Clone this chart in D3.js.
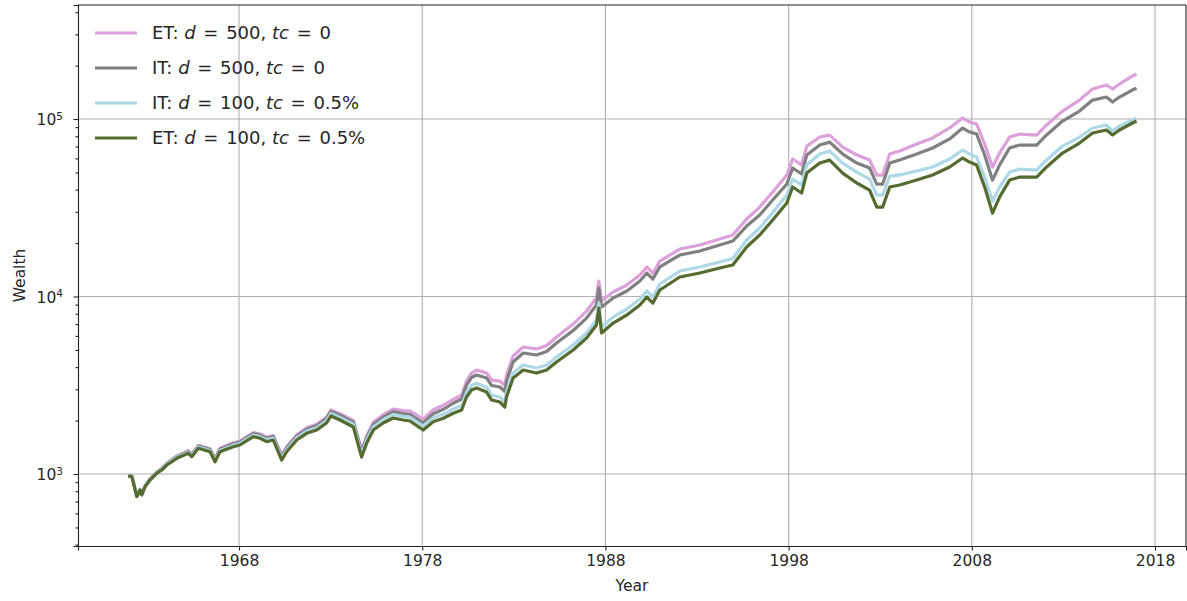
<!DOCTYPE html>
<html>
<head>
<meta charset="utf-8">
<script src="https://cdn.jsdelivr.net/npm/d3@7"></script>
<style>
  html, body { margin: 0; padding: 0; background: #fff; }
  svg { display: block; font-family: "DejaVu Sans", sans-serif; }
</style>
</head>
<body>
<svg id="chart" width="1187" height="601"></svg>
<script>
(function () {
    'use strict';

    // ── Data ──────────────────────────────────────────────────
    const years = [
        1961.94, 1962.15, 1962.42, 1962.60, 1962.69, 1962.87, 1963.14, 1963.51, 1963.78, 1964.06,
        1964.60, 1965.23, 1965.42, 1965.78, 1966.42, 1966.69, 1966.96, 1967.69, 1968.05, 1968.78,
        1969.15, 1969.51, 1969.87, 1970.33, 1970.60, 1971.15, 1971.69, 1972.24, 1972.78, 1973.02,
        1973.51, 1974.24, 1974.69, 1974.97, 1975.33, 1975.87, 1976.42, 1976.96, 1977.33, 1978.05,
        1978.60, 1979.15, 1979.69, 1980.15, 1980.42, 1980.69, 1980.97, 1981.51, 1981.79, 1982.24,
        1982.51, 1982.60, 1982.96, 1983.51, 1984.24, 1984.79, 1985.33, 1986.24, 1986.97, 1987.51,
        1987.64, 1987.79, 1988.42, 1989.17, 1989.88, 1990.26, 1990.59, 1990.97, 1992.06, 1993.15,
        1994.24, 1994.95, 1995.71, 1996.42, 1997.13, 1997.90, 1998.22, 1998.71, 1998.99, 1999.70,
        2000.24, 2000.95, 2001.72, 2002.42, 2002.81, 2003.13, 2003.52, 2004.06, 2004.99, 2005.86,
        2006.79, 2007.50, 2007.88, 2008.26, 2008.70, 2009.13, 2009.52, 2010.06, 2010.61, 2011.54,
        2012.08, 2012.95, 2013.88, 2014.59, 2015.35, 2015.68, 2016.06, 2016.77, 2016.99
    ];

    // ET: d = 500, tc = 0
    const etD500 = [
        975, 972, 750, 818, 767, 855, 937, 1025, 1074, 1150,
        1258, 1351, 1293, 1450, 1387, 1219, 1396, 1501, 1534, 1713,
        1680, 1612, 1649, 1275, 1424, 1663, 1820, 1905, 2095, 2294,
        2186, 2002, 1365, 1643, 1955, 2157, 2318, 2277, 2265, 2040,
        2302, 2439, 2635, 2787, 3342, 3707, 3853, 3708, 3384, 3340,
        3151, 3611, 4620, 5195, 5060, 5295, 5914, 6998, 8281, 9802,
        12220, 9435, 10600, 11610, 13220, 14660, 13570, 15850, 18520, 19510,
        21080, 22210, 27320, 31920, 38800, 48320, 59530, 55080, 70380, 79160,
        81180, 69490, 62700, 58740, 48330, 48330, 63510, 66050, 72250, 78210,
        89030, 101300, 96100, 93780, 72330, 53570, 64430, 79140, 82280, 81200,
        92580, 110900, 127900, 147600, 155500, 147600, 157400, 174800, 179200
    ];

    // IT: d = 500, tc = 0
    const itD500 = [
        974, 972, 749, 818, 766, 854, 937, 1022, 1070, 1145,
        1252, 1342, 1285, 1436, 1375, 1208, 1379, 1481, 1514, 1690,
        1656, 1588, 1624, 1254, 1399, 1632, 1785, 1868, 2052, 2249,
        2142, 1958, 1331, 1600, 1900, 2089, 2242, 2192, 2172, 1937,
        2186, 2315, 2504, 2645, 3171, 3496, 3612, 3474, 3151, 3091,
        2917, 3342, 4276, 4806, 4682, 4898, 5473, 6434, 7563, 8953,
        11160, 8725, 9805, 10740, 12220, 13560, 12550, 14670, 17130, 18050,
        19510, 20540, 24950, 28770, 34970, 43010, 52990, 49020, 62640, 71360,
        74140, 63490, 56510, 52930, 43000, 43000, 56510, 58780, 63470, 68680,
        77220, 89000, 84430, 82370, 62720, 45250, 55150, 68630, 71360, 71360,
        81360, 97410, 110900, 127900, 133000, 124700, 133000, 145700, 149400
    ];

    // IT: d = 100, tc = 0.5%
    const itD100 = [
        974, 969, 747, 815, 764, 851, 931, 1017, 1063, 1136,
        1242, 1325, 1268, 1418, 1356, 1191, 1358, 1454, 1486, 1656,
        1624, 1558, 1593, 1230, 1370, 1598, 1744, 1822, 2000, 2192,
        2084, 1906, 1293, 1553, 1842, 2023, 2163, 2114, 2088, 1863,
        2075, 2175, 2323, 2429, 2878, 3154, 3243, 3082, 2783, 2714,
        2545, 2897, 3707, 4112, 3955, 4112, 4562, 5330, 6227, 7371,
        9191, 6732, 7664, 8505, 9681, 10740, 9937, 11760, 13920, 14670,
        15640, 16370, 20810, 24310, 29730, 37260, 45910, 42470, 55350, 63510,
        65980, 56490, 50270, 45890, 37260, 37260, 47730, 48410, 50920, 53680,
        59550, 66870, 63430, 61110, 47150, 34460, 41460, 50240, 52230, 51570,
        58800, 70410, 79130, 88990, 92510, 85610, 91300, 98700, 101200
    ];

    // ET: d = 100, tc = 0.5%
    const etD100 = [
        974, 966, 745, 813, 762, 848, 925, 1009, 1053, 1124,
        1226, 1308, 1252, 1396, 1335, 1173, 1335, 1425, 1457, 1622,
        1589, 1521, 1554, 1199, 1335, 1554, 1695, 1769, 1938, 2122,
        2015, 1840, 1247, 1495, 1769, 1938, 2068, 2015, 1989, 1769,
        1971, 2060, 2198, 2294, 2715, 2973, 3051, 2897, 2611, 2544,
        2385, 2715, 3474, 3854, 3707, 3854, 4276, 4995, 5836, 6908,
        8614, 6228, 7090, 7868, 8956, 9935, 9192, 10880, 12880, 13570,
        14470, 15050, 19000, 22200, 26980, 33600, 41400, 38300, 49600, 56500,
        58700, 49600, 43600, 39800, 31900, 31900, 41400, 42500, 45300, 48400,
        53700, 60300, 57200, 55100, 41400, 29500, 36400, 45300, 47100, 47100,
        53700, 64300, 73200, 83400, 86700, 81300, 86700, 95000, 97400
    ];

    const seriesNames  = ['ET', 'IT', 'IT', 'ET'];
    const seriesD      = ['500', '500', '100', '100'];
    const seriesTc     = ['0', '0', '0.5%', '0.5%'];
    const seriesValues = [etD500, itD500, itD100, etD100];
    const seriesColors = ['#dda0dd', '#808080', '#add8e6', '#556b2f'];

    const xTicks = [1968, 1978, 1988, 1998, 2008, 2018];
    const yTicks = [1e3, 1e4, 1e5];

    const FONT = '"DejaVu Sans", sans-serif';
    const INK  = '#262626';
    const AXIS = '#222';

    // ── Layout ────────────────────────────────────────────────
    const W = 1187, H = 601;
    const M = { left: 78, right: 1, top: 5, bottom: 55 };
    const plotW = W - M.left - M.right;
    const plotH = H - M.top - M.bottom;

    const svg = d3.select('#chart');
    const g = svg.append('g').attr('transform', `translate(${M.left},${M.top})`);

    const x = d3.scaleLinear().domain([1959.21, 2019.69]).range([0, plotW]);
    const y = d3.scaleLog().domain([393, 4.39e5]).range([plotH, 0]);

    // ── Grid ──────────────────────────────────────────────────
    g.append('g').selectAll('line')
        .data(xTicks)
        .join('line')
        .attr('x1', d => x(d)).attr('x2', d => x(d))
        .attr('y1', 0).attr('y2', plotH)
        .attr('stroke', '#b0b0b0').attr('stroke-width', 1.1);

    g.append('g').selectAll('line')
        .data(yTicks)
        .join('line')
        .attr('x1', 0).attr('x2', plotW)
        .attr('y1', d => y(d)).attr('y2', d => y(d))
        .attr('stroke', '#b0b0b0').attr('stroke-width', 1.1);

    // ── Lines ─────────────────────────────────────────────────
    const line = d3.line()
        .x((d, i) => x(years[i]))
        .y(d => y(d));

    g.append('g')
        .selectAll('path')
        .data(seriesValues)
        .join('path')
        .attr('fill', 'none')
        .attr('stroke', (d, i) => seriesColors[i])
        .attr('stroke-width', 3.2)
        .attr('stroke-linejoin', 'round')
        .attr('d', line);

    // ── Axes ──────────────────────────────────────────────────
    const xAxis = g.append('g')
        .attr('transform', `translate(0,${plotH})`)
        .call(d3.axisBottom(x).tickValues(xTicks).tickFormat(d3.format('d'))
            .tickSize(4.5).tickPadding(4));

    const minorY = [];
    [100, 1000, 10000, 100000].forEach(base => {
        for (let k = 2; k <= 9; k++) {
            const v = base * k;
            if (v >= 393 && v <= 4.39e5) minorY.push(v);
        }
    });

    g.append('g')
        .call(d3.axisLeft(y).tickValues(minorY).tickFormat('').tickSize(2.5))
        .call(a => a.select('.domain').remove());

    const yAxis = g.append('g')
        .call(d3.axisLeft(y).tickValues(yTicks).tickFormat('').tickSize(4.5));

    yAxis.selectAll('.tick').each(function (d) {
        const t = d3.select(this).append('text')
            .attr('x', -15).attr('dy', '0.36em')
            .attr('text-anchor', 'end')
            .attr('fill', INK)
            .attr('font-family', FONT)
            .attr('font-size', '15.5px');
        t.append('tspan').text('10');
        t.append('tspan')
            .attr('dy', '-0.5em')
            .attr('font-size', '10.5px')
            .text(Math.round(Math.log10(d)));
    });

    xAxis.attr('font-family', FONT).attr('font-size', '15.5px');
    xAxis.selectAll('text').attr('fill', INK);

    g.selectAll('.domain').attr('stroke', AXIS).attr('stroke-width', 1.1);
    g.selectAll('.tick line').attr('stroke', AXIS).attr('stroke-width', 1.1);

    // top / right spines
    g.append('line').attr('x1', 0).attr('x2', plotW).attr('y1', 0).attr('y2', 0)
        .attr('stroke', AXIS).attr('stroke-width', 1.1);
    g.append('line').attr('x1', plotW).attr('x2', plotW).attr('y1', 0).attr('y2', plotH)
        .attr('stroke', AXIS).attr('stroke-width', 1.1);

    // ── Axis labels ───────────────────────────────────────────
    svg.append('text')
        .attr('x', M.left + plotW / 2).attr('y', 591)
        .attr('text-anchor', 'middle')
        .attr('fill', INK)
        .style('font-size', '15.5px')
        .text('Year');

    svg.append('text')
        .attr('transform', `translate(25,${M.top + plotH / 2}) rotate(-90)`)
        .attr('text-anchor', 'middle')
        .attr('fill', INK)
        .style('font-size', '15.5px')
        .text('Wealth');

    // ── Legend ────────────────────────────────────────────────
    const legend = svg.append('g').attr('transform', 'translate(95,33)');
    seriesNames.forEach((name, i) => {
        const row = legend.append('g').attr('transform', `translate(0,${i * 35})`);
        row.append('line')
            .attr('x1', 0).attr('x2', 42)
            .attr('stroke', seriesColors[i]).attr('stroke-width', 3);
        const t = row.append('text')
            .attr('x', 57).attr('dy', '0.36em')
            .attr('fill', INK)
            .style('font-size', '18px');
        t.append('tspan').text(name + ': ');
        t.append('tspan').style('font-style', 'italic').text('d');
        t.append('tspan').attr('dx', 2).text(' = ');
        t.append('tspan').attr('dx', 2).text(seriesD[i] + ', ');
        t.append('tspan').style('font-style', 'italic').text('tc');
        t.append('tspan').attr('dx', 2).text(' = ');
        t.append('tspan').attr('dx', 2).text(seriesTc[i]);
    });
})();
</script>
</body>
</html>
